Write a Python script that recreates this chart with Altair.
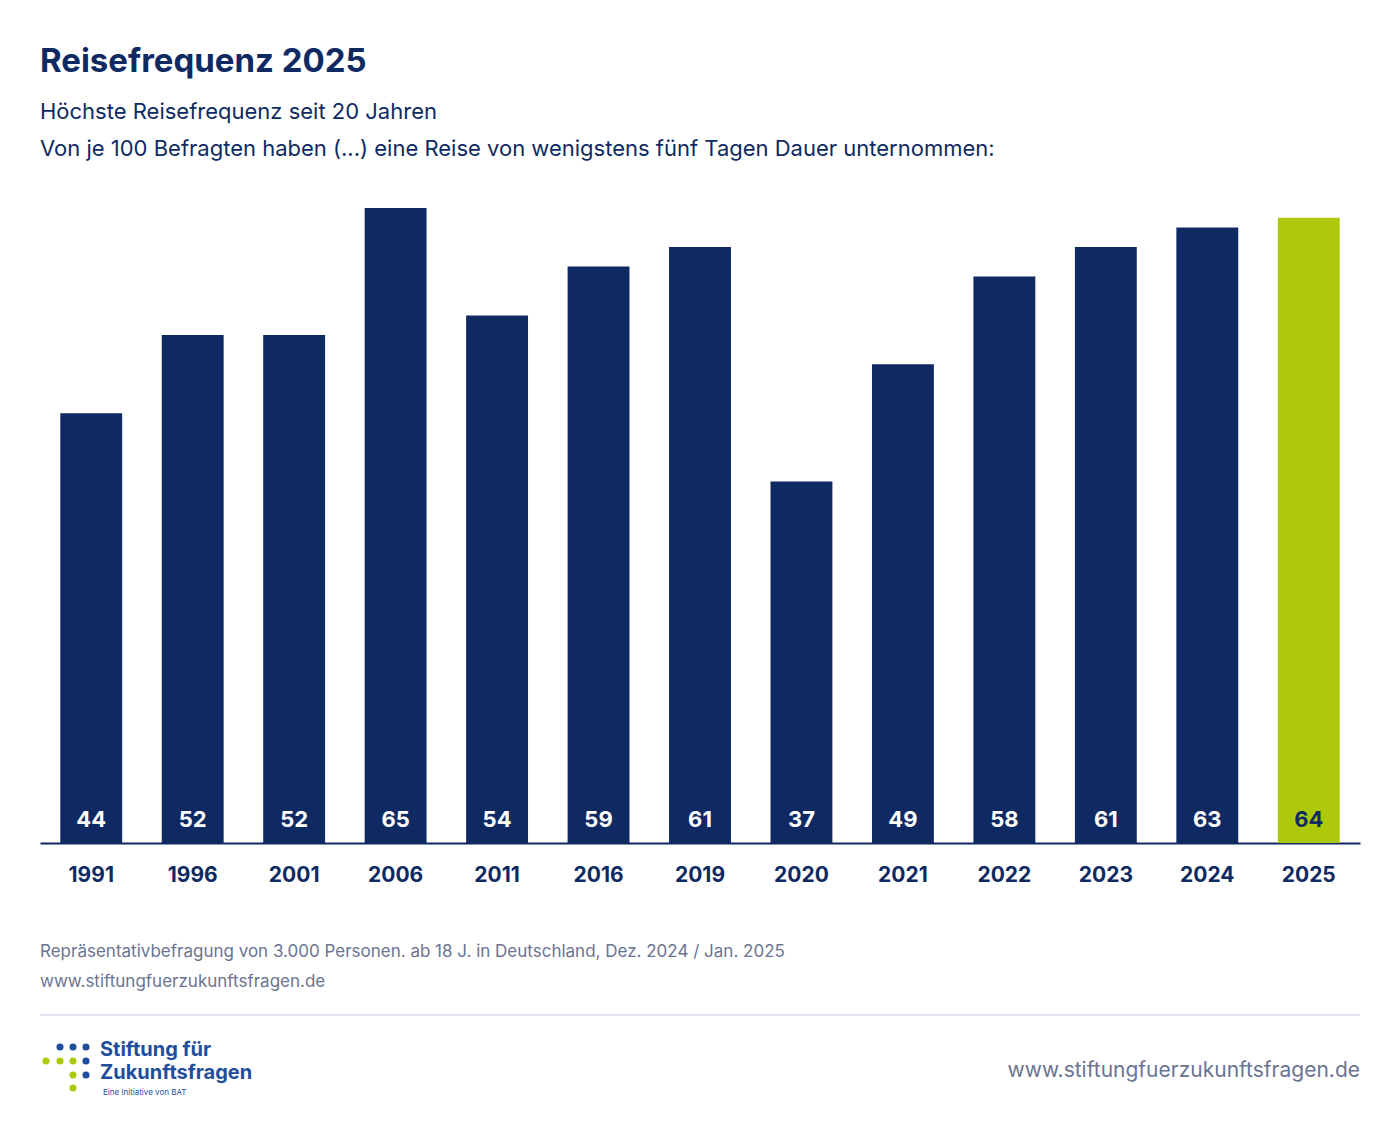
import altair as alt
import pandas as pd

years = ["1991","1996","2001","2006","2011","2016","2019","2020","2021","2022","2023","2024","2025"]
values = [44,52,52,65,54,59,61,37,49,58,61,63,64]
highlight = [False]*12 + [True]

NAVY = "#0f2a62"
GREEN = "#adc90a"
GRAY = "#6b7491"
FONT = "Inter"

df = pd.DataFrame({"year": years, "value": values, "hl": highlight})

W, H = 1320, 635
xenc = alt.X("year:N", sort=years, title=None,
             scale=alt.Scale(paddingInner=0.39, paddingOuter=0.2),
             axis=alt.Axis(labelAngle=0, labelFont=FONT, labelFontSize=21, labelFontWeight="bold",
                           labelColor=NAVY, ticks=False, domainColor=NAVY, domainWidth=2, labelPadding=21))
yenc = alt.Y("value:Q", scale=alt.Scale(domain=[0, 65], nice=False), axis=None)

bars = alt.Chart(df).mark_bar().encode(
    x=xenc, y=yenc,
    color=alt.condition("datum.hl", alt.value(GREEN), alt.value(NAVY)))

labels = alt.Chart(df).mark_text(font=FONT, fontSize=22, fontWeight="bold", baseline="middle").encode(
    x=alt.X("year:N", sort=years), y=alt.value(H - 23), text="value:Q",
    color=alt.condition("datum.hl", alt.value(NAVY), alt.value("white")))

OX, OY = 40, 208  # plot origin in page coords

def T(s, px, py, size, color, weight="normal", align="left"):
    return alt.Chart(pd.DataFrame({"t": [s]})).mark_text(
        font=FONT, fontSize=size, fontWeight=weight, color=color, align=align, baseline="middle", clip=False
    ).encode(x=alt.value(px - OX), y=alt.value(py - OY), text="t:N")

texts = [
    T("Reisefrequenz 2025", 40, 62, 33, NAVY, "bold"),
    T("Höchste Reisefrequenz seit 20 Jahren", 40, 112, 22, NAVY),
    T("Von je 100 Befragten haben (...) eine Reise von wenigstens fünf Tagen Dauer unternommen:", 40, 149, 22, NAVY),
    T("Repräsentativbefragung von 3.000 Personen. ab 18 J. in Deutschland, Dez. 2024 / Jan. 2025", 40, 952, 17, GRAY),
    T("www.stiftungfuerzukunftsfragen.de", 40, 982, 17, GRAY),
    T("www.stiftungfuerzukunftsfragen.de", 1360, 1071, 21, GRAY, align="right"),
    T("Stiftung für", 100, 1050, 20, "#1f4e9c", "bold"),
    T("Zukunftsfragen", 100, 1073, 20, "#1f4e9c", "bold"),
    T("Eine Initiative von BAT", 103, 1093, 8, "#1f4e9c"),
]

sep = alt.Chart(pd.DataFrame({"a": [0]})).mark_rule(color="#e4e4f0", strokeWidth=2, clip=False).encode(
    x=alt.value(0), x2=alt.value(W), y=alt.value(1015 - OY))

dot_x = [60, 73, 86, 46, 60, 73, 86, 73, 86, 73]
dot_y = [1047, 1047, 1047, 1061, 1061, 1061, 1061, 1075, 1075, 1088]
dot_c = ["b", "b", "b", "g", "g", "g", "b", "g", "b", "g"]
dots = alt.Chart(pd.DataFrame({"x": [v - OX for v in dot_x], "y": [v - OY for v in dot_y], "c": dot_c})).mark_circle(
    size=50, opacity=1, clip=False).encode(
    x=alt.X("x:Q", scale=None), y=alt.Y("y:Q", scale=None),
    color=alt.Color("c:N", scale=alt.Scale(domain=["b", "g"], range=["#1f4e9c", GREEN]), legend=None))

chart = alt.layer(bars, labels, sep, dots, *texts).properties(
    width=W, height=H,
    padding={"left": OX - 8, "top": OY - 8, "right": 20, "bottom": 300},
    autosize=alt.AutoSizeParams(type="none"),
    background="white"
).configure_view(stroke=None)

chart.save("out.html", embed_options={"renderer": "svg", "actions": False})
